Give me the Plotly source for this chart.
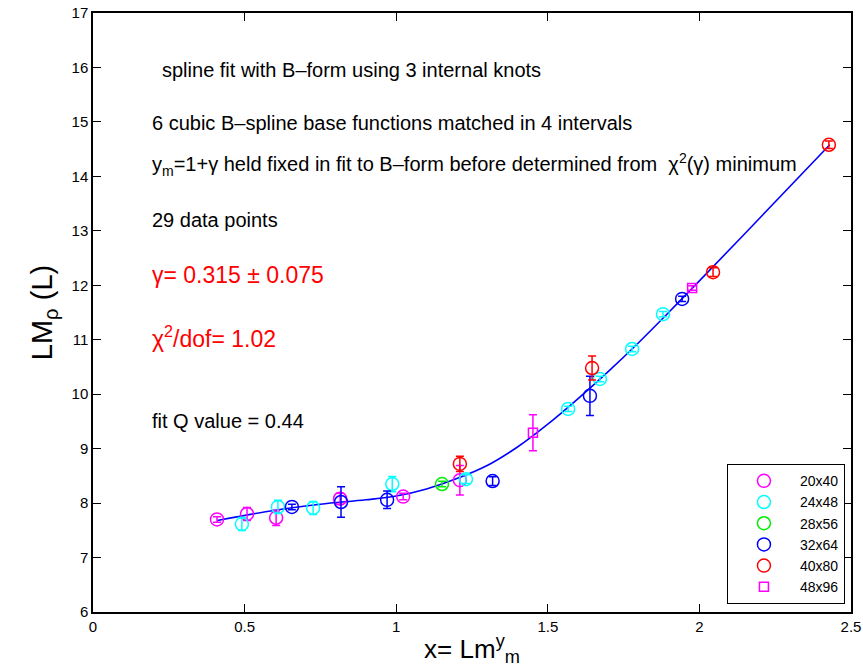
import plotly.graph_objects as go

# ---- data ----
m_x = [0.409, 0.508, 0.604, 0.815, 1.023, 1.21]
m_y = [7.70, 7.80, 7.73, 8.08, 8.12, 8.42]
m_e = [0.05, 0.12, 0.14, 0.10, 0.06, 0.27]

c_x = [0.491, 0.61, 0.726, 0.987, 1.23, 1.567, 1.672, 1.778, 1.88]
c_y = [7.615, 7.93, 7.91, 8.35, 8.44, 9.73, 10.28, 10.83, 11.47]
c_e = [0.12, 0.12, 0.12, 0.14, 0.08, 0.05, 0.05, 0.05, 0.05]

g_x = [1.151]
g_y = [8.35]
g_e = [0.05]

b_x = [0.656, 0.818, 0.97, 1.318, 1.639, 1.943]
b_y = [7.93, 8.02, 8.06, 8.405, 9.97, 11.75]
b_e = [0.05, 0.28, 0.16, 0.08, 0.36, 0.05]

r_x = [1.21, 1.646, 2.045, 2.427]
r_y = [8.72, 10.48, 12.24, 14.58]
r_e = [0.14, 0.22, 0.08, 0.07]

s_x = [1.451, 1.976]
s_y = [9.29, 11.95]
s_e = [0.33, 0.04]

fit_x = [0.41, 0.6, 0.75, 0.9, 1.0, 1.1, 1.2, 1.3, 1.4, 1.5, 1.6, 1.7, 1.8, 1.9, 2.0, 2.2, 2.43]
fit_y = [7.68, 7.87, 7.98, 8.06, 8.13, 8.26, 8.45, 8.69, 9.03, 9.45, 9.92, 10.42, 10.95, 11.51, 12.08, 13.24, 14.58]

series = [
    ("20x40", m_x, m_y, m_e, "#ff00ff", "circle-open"),
    ("24x48", c_x, c_y, c_e, "#00ffff", "circle-open"),
    ("28x56", g_x, g_y, g_e, "#00ee00", "circle-open"),
    ("32x64", b_x, b_y, b_e, "#0000ff", "circle-open"),
    ("40x80", r_x, r_y, r_e, "#ff0000", "circle-open"),
    ("48x96", s_x, s_y, s_e, "#ff00ff", "square-open"),
]

FONT = "Liberation Sans, Arial, Helvetica, sans-serif"

fig = go.Figure()
fig.add_trace(go.Scatter(x=fit_x, y=fit_y, mode="lines", line=dict(color="#0000ff", width=1.6, shape="spline"),
                         showlegend=False, hoverinfo="skip"))
for name, xs, ys, es, col, sym in series:
    fig.add_trace(go.Scatter(
        x=xs, y=ys, mode="markers", name=name,
        marker=dict(symbol=sym, size=13 if sym.startswith("circle") else 9, color=col, line=dict(width=1.5, color=col)),
        error_y=dict(type="data", array=es, visible=True, color=col, thickness=1.5, width=4),
    ))

ax = dict(showgrid=False, zeroline=False, showline=True, linecolor="black", linewidth=1.5, mirror="ticks",
          ticks="inside", ticklen=8, tickcolor="black", automargin=False,
          tickfont=dict(family=FONT, size=15, color="black"))

fig.update_layout(
    width=863, height=670,
    margin=dict(l=93, r=12, t=13, b=58),
    plot_bgcolor="white", paper_bgcolor="white",
    font=dict(family=FONT, color="black"),
    xaxis=dict(ax, range=[0, 2.5], tickvals=[0, 0.5, 1, 1.5, 2, 2.5], ticktext=["0", "0.5", "1", "1.5", "2", "2.5"],
               title=dict(text="x= Lm<sup>y</sup><sub>m</sub>", font=dict(family=FONT, size=26), standoff=6)),
    yaxis=dict(ax, range=[6, 17], dtick=1,
               title=dict(text="LM<sub>ρ</sub> (L)", font=dict(family=FONT, size=29), standoff=10)),
    legend=dict(x=0.992, xanchor="right", y=0.013, yanchor="bottom", bordercolor="black", borderwidth=1,
                bgcolor="white", font=dict(family=FONT, size=14), itemwidth=62),
)

notes = [
    (0.221, 15.95, "spline fit with B\u2013form using 3 internal knots", "black", 20),
    (0.188, 14.98, "6 cubic B\u2013spline base functions matched in 4 intervals", "black", 20),
    (0.188, 14.22, "y<sub>m</sub>=1+\u03b3 held fixed in fit to B\u2013form before determined from  \u03c7<sup>2</sup>(\u03b3) minimum", "black", 20),
    (0.188, 13.2, "29 data points", "black", 20),
    (0.188, 12.19, "\u03b3= 0.315 \u00b1 0.075", "#ff0000", 23),
    (0.188, 11.05, "\u03c7<sup>2</sup>/dof= 1.02", "#ff0000", 23),
    (0.188, 9.5, "fit Q value = 0.44", "black", 20),
]
for x, y, t, col, sz in notes:
    fig.add_annotation(x=x, y=y, xref="x", yref="y", text=t, showarrow=False, xanchor="left", yanchor="middle",
                       font=dict(family=FONT, size=sz, color=col))

fig.write_html("out.html")
